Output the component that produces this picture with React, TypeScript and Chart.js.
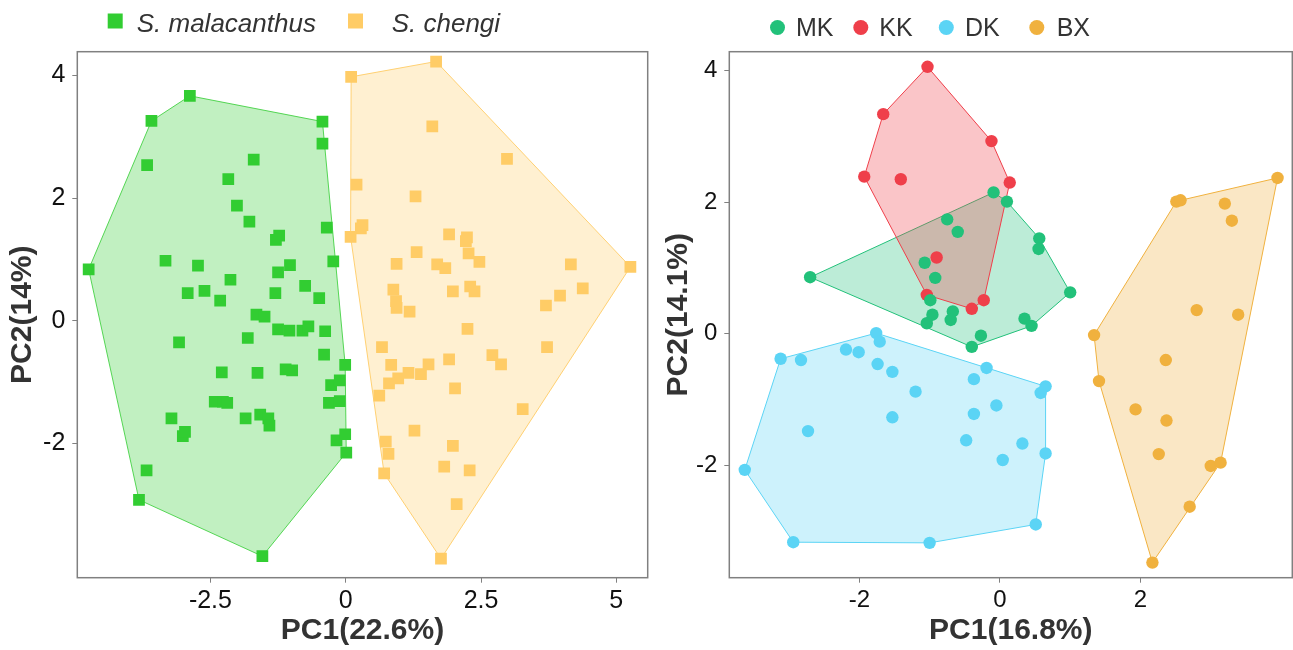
import React, { useEffect, useRef } from "react";
import { Chart, registerables } from "chart.js";

Chart.register(...registerables);

type Pt = [number, number];

// ---------- Left panel: species ----------
const malacanthus: Pt[] = [
  [-4.75, 0.84], [-3.59, 3.26], [-2.88, 3.67], [-0.43, 3.25], [-0.43, 2.89],
  [-3.67, 2.54], [-1.70, 2.63], [-2.17, 2.31], [-2.01, 1.88], [-1.78, 1.62],
  [-1.23, 1.39], [-1.29, 1.32], [-0.35, 1.52], [-0.23, 0.97], [-3.33, 0.98],
  [-2.73, 0.90], [-1.03, 0.91], [-1.25, 0.79], [-2.13, 0.67], [-0.75, 0.57],
  [-2.92, 0.45], [-2.61, 0.49], [-1.30, 0.45], [-0.49, 0.37], [-2.32, 0.33],
  [-1.65, 0.10], [-1.50, 0.07], [-1.25, -0.14], [-1.04, -0.16], [-0.80, -0.16],
  [-0.69, -0.09], [-0.38, -0.17], [-3.08, -0.35], [-1.81, -0.28], [-0.40, -0.55],
  [-0.01, -0.72], [-2.29, -0.84], [-1.63, -0.85], [-1.11, -0.79], [-0.99, -0.81],
  [-0.27, -1.05], [-0.11, -0.97], [-2.42, -1.32], [-2.27, -1.32], [-2.19, -1.34],
  [-0.31, -1.34], [-0.11, -1.31], [-3.22, -1.59], [-1.85, -1.59], [-1.58, -1.53],
  [-1.43, -1.59], [-1.41, -1.71], [-3.01, -1.88], [-2.97, -1.81], [-0.17, -1.95],
  [-0.01, -1.85], [0.01, -2.15], [-3.68, -2.44], [-3.82, -2.92], [-1.54, -3.84],
];

const chengi: Pt[] = [
  [0.10, 3.98], [1.67, 4.23], [1.60, 3.17], [2.98, 2.64], [0.20, 2.22],
  [1.29, 2.03], [0.31, 1.56], [0.28, 1.51], [0.09, 1.37], [1.91, 1.41],
  [2.24, 1.36], [2.22, 1.30], [2.27, 1.10], [1.31, 1.12], [0.94, 0.93],
  [1.69, 0.92], [1.84, 0.86], [2.47, 0.96], [4.16, 0.92], [5.26, 0.88],
  [0.88, 0.51], [0.93, 0.32], [0.94, 0.21], [1.18, 0.15], [1.98, 0.48],
  [2.30, 0.56], [2.38, 0.48], [3.96, 0.41], [4.38, 0.53], [3.70, 0.25],
  [2.25, -0.13], [0.67, -0.43], [3.72, -0.43], [0.84, -0.72], [1.91, -0.63],
  [2.71, -0.56], [2.87, -0.71], [1.53, -0.71], [1.39, -0.87], [1.16, -0.85],
  [0.97, -0.94], [0.80, -1.02], [0.62, -1.22], [2.02, -1.10], [3.27, -1.44],
  [1.27, -1.79], [0.74, -1.97], [1.98, -2.04], [0.79, -2.17], [1.82, -2.38],
  [2.29, -2.44], [0.71, -2.49], [2.05, -2.99], [1.76, -3.88],
];

const leftLabels = ["S. malacanthus", "S. chengi"];
const leftXTicks = [-2.5, 0, 2.5, 5];
const leftYTicks = [-2, 0, 2, 4];
const leftXTitle = "PC1(22.6%)";
const leftYTitle = "PC2(14%)";

// ---------- Right panel: populations ----------
const mk: Pt[] = [
  [-2.70, 0.86], [-0.75, 1.74], [-0.60, 1.55], [-1.07, 1.08], [-0.92, 0.85],
  [-0.99, 0.51], [-0.96, 0.29], [-1.04, 0.16], [-0.67, 0.34], [-0.70, 0.21],
  [-0.27, -0.03], [-0.40, -0.20], [-0.09, 2.15], [0.10, 2.01], [0.56, 1.45],
  [0.55, 1.29], [1.00, 0.63], [0.35, 0.23], [0.45, 0.12],
];
const kk: Pt[] = [
  [-1.03, 4.06], [-1.66, 3.34], [-1.93, 2.39], [-1.41, 2.35], [-0.90, 1.16],
  [-1.04, 0.59], [-0.40, 0.38], [-0.23, 0.51], [-0.12, 2.93], [0.14, 2.30],
];
const dk: Pt[] = [
  [-1.76, 0.01], [-1.71, -0.12], [-2.19, -0.24], [-2.01, -0.28], [-3.12, -0.38],
  [-2.83, -0.40], [-1.74, -0.46], [-1.53, -0.58], [-1.20, -0.88], [-0.37, -0.69],
  [-0.19, -0.52], [-1.53, -1.27], [-0.37, -1.22], [-2.73, -1.48], [-0.48, -1.62],
  [-3.63, -2.07], [-2.94, -3.17], [-1.00, -3.18], [-0.05, -1.09], [0.65, -0.80],
  [0.58, -0.90], [0.32, -1.67], [0.04, -1.92], [0.65, -1.82], [0.51, -2.90],
];
const bx: Pt[] = [
  [3.95, 2.37], [2.51, 2.01], [2.57, 2.03], [3.20, 1.98], [3.30, 1.72],
  [2.80, 0.36], [3.39, 0.29], [1.34, -0.02], [2.36, -0.40], [1.41, -0.72],
  [1.93, -1.15], [2.37, -1.32], [2.26, -1.83], [3.00, -2.01], [3.14, -1.96],
  [2.70, -2.63], [2.17, -3.48],
];

const rightLabels = ["MK", "KK", "DK", "BX"];
const rightXTicks = [-2, 0, 2];
const rightYTicks = [-2, 0, 2, 4];
const rightXTitle = "PC1(16.8%)";
const rightYTitle = "PC2(14.1%)";

// ---------- helpers ----------
const FONT = "'Liberation Sans', Arial, Helvetica, sans-serif";

function convexHull(pts: Pt[]): Pt[] {
  const p = [...pts].sort((a, b) => a[0] - b[0] || a[1] - b[1]);
  const cross = (o: Pt, a: Pt, b: Pt) =>
    (a[0] - o[0]) * (b[1] - o[1]) - (a[1] - o[1]) * (b[0] - o[0]);
  const lower: Pt[] = [];
  for (const q of p) {
    while (lower.length >= 2 && cross(lower[lower.length - 2], lower[lower.length - 1], q) <= 0) lower.pop();
    lower.push(q);
  }
  const upper: Pt[] = [];
  for (let i = p.length - 1; i >= 0; i--) {
    const q = p[i];
    while (upper.length >= 2 && cross(upper[upper.length - 2], upper[upper.length - 1], q) <= 0) upper.pop();
    upper.push(q);
  }
  upper.pop();
  lower.pop();
  return lower.concat(upper);
}

const hullPlugin = {
  id: "hulls",
  beforeDatasetsDraw(chart: any, _args: any, opts: any) {
    const { ctx, scales } = chart;
    const xs = scales.x;
    const ys = scales.y;
    chart.data.datasets.forEach((ds: any, i: number) => {
      const pts = convexHull(ds.data.map((d: any) => [d.x, d.y] as Pt));
      ctx.save();
      ctx.beginPath();
      pts.forEach(([a, b], k) => {
        const px = xs.getPixelForValue(a);
        const py = ys.getPixelForValue(b);
        if (k === 0) ctx.moveTo(px, py);
        else ctx.lineTo(px, py);
      });
      ctx.closePath();
      ctx.fillStyle = opts.fills[i];
      ctx.fill();
      ctx.strokeStyle = opts.strokes[i];
      ctx.lineWidth = 1;
      ctx.stroke();
      ctx.restore();
    });
  },
};

const framePlugin = {
  id: "frame",
  afterDraw(chart: any, _args: any, opts: any) {
    const { ctx, chartArea: a } = chart;
    ctx.save();
    ctx.strokeStyle = opts.color;
    ctx.lineWidth = opts.width;
    ctx.strokeRect(a.left, a.top, a.right - a.left, a.bottom - a.top);
    ctx.restore();
  },
};

const legendPlugin = {
  id: "pcaLegend",
  afterDraw(chart: any, _args: any, opts: any) {
    const { ctx } = chart;
    ctx.save();
    chart.data.datasets.forEach((ds: any, i: number) => {
      const it = opts.items[i];
      ctx.fillStyle = ds.backgroundColor;
      if (opts.marker === "rect") {
        ctx.fillRect(it.cx - opts.size / 2, opts.cy - opts.size / 2, opts.size, opts.size);
      } else {
        ctx.beginPath();
        ctx.arc(it.cx, opts.cy, opts.size / 2, 0, Math.PI * 2);
        ctx.fill();
      }
      ctx.fillStyle = opts.textColor;
      ctx.font = opts.font;
      ctx.textAlign = "left";
      ctx.textBaseline = "alphabetic";
      ctx.fillText(ds.label, it.tx, opts.baseline);
    });
    ctx.restore();
  },
};

function zeroPadding(s: any) {
  s.paddingLeft = 0;
  s.paddingRight = 0;
  s.paddingTop = 0;
  s.paddingBottom = 0;
}

function makeScales(
  xr: [number, number], yr: [number, number], xt: number[], yt: number[],
  xTitle: string, yTitle: string, yWidth: number, tickSize: number, yTitlePad: number
) {
  const common = {
    type: "linear" as const,
    grid: { drawOnChartArea: false, drawTicks: true, tickLength: 5, color: "#808080", lineWidth: 1 },
    border: { display: false },
  };
  return {
    x: {
      ...common,
      position: "bottom",
      min: xr[0],
      max: xr[1],
      afterBuildTicks: (s: any) => { s.ticks = xt.map((v) => ({ value: v })); },
      afterFit: (s: any) => { s.height = 72.3; zeroPadding(s); },
      ticks: {
        autoSkip: false, maxRotation: 0, minRotation: 0, padding: 3,
        color: "#111", font: { family: FONT, size: tickSize },
        callback: (v: any) => String(v),
      },
      title: {
        display: true, text: xTitle, color: "#333",
        font: { family: FONT, size: 30, weight: "bold" }, padding: { top: 0, bottom: 1 },
      },
    },
    y: {
      ...common,
      position: "left",
      min: yr[0],
      max: yr[1],
      afterBuildTicks: (s: any) => { s.ticks = yt.map((v) => ({ value: v })); },
      afterFit: (s: any) => { s.width = yWidth; zeroPadding(s); },
      ticks: {
        autoSkip: false, padding: 7,
        color: "#111", font: { family: FONT, size: tickSize },
        callback: (v: any) => String(v),
      },
      title: {
        display: true, text: yTitle, color: "#333",
        font: { family: FONT, size: 30, weight: "bold" }, padding: { top: yTitlePad, bottom: 0 },
      },
    },
  };
}

const toXY = (arr: Pt[]) => arr.map(([x, y]) => ({ x, y }));

function leftConfig(): any {
  const colors = ["#32CD32", "#FFCC66"];
  return {
    type: "scatter",
    data: {
      datasets: [malacanthus, chengi].map((d, i) => ({
        label: leftLabels[i],
        data: toXY(d),
        pointStyle: "rect",
        pointRadius: 8.3,
        pointHoverRadius: 8.3,
        backgroundColor: colors[i],
        borderWidth: 0,
      })),
    },
    options: {
      responsive: false,
      animation: false,
      events: [],
      layout: { autoPadding: false, padding: { top: 51.7, right: 12.3, left: 0, bottom: 0 } },
      scales: makeScales([-4.96, 5.58], [-4.19, 4.39], leftXTicks, leftYTicks, leftXTitle, leftYTitle, 77.3, 25, 4.5),
      plugins: {
        legend: { display: false },
        tooltip: { enabled: false },
        hulls: {
          fills: ["rgba(50,205,50,0.3)", "rgba(255,204,102,0.3)"],
          strokes: ["rgba(50,205,50,0.8)", "rgba(255,204,102,0.9)"],
        },
        frame: { color: "#808080", width: 1.5 },
        pcaLegend: {
          marker: "rect", size: 15, cy: 21, baseline: 32, textColor: "#333",
          font: `italic 26px ${FONT}`,
          items: [{ cx: 115.2, tx: 136.7 }, { cx: 355.5, tx: 391.7 }],
        },
      },
    },
    plugins: [hullPlugin, framePlugin, legendPlugin],
  };
}

function rightConfig(): any {
  const colors = ["#22C17A", "#EF3F4A", "#5BD4F5", "#F0B13E"];
  const rgba = ["rgba(34,193,122,0.3)", "rgba(239,63,74,0.3)", "rgba(91,212,245,0.3)", "rgba(240,177,62,0.3)"];
  return {
    type: "scatter",
    data: {
      datasets: [mk, kk, dk, bx].map((d, i) => ({
        label: rightLabels[i],
        data: toXY(d),
        pointStyle: "circle",
        pointRadius: 6.2,
        pointHoverRadius: 6.2,
        backgroundColor: colors[i],
        borderWidth: 0,
      })),
    },
    options: {
      responsive: false,
      animation: false,
      events: [],
      layout: { autoPadding: false, padding: { top: 51.7, right: 0.7, left: 0, bottom: 0 } },
      scales: makeScales([-3.85, 4.16], [-3.71, 4.29], rightXTicks, rightYTicks, rightXTitle, rightYTitle, 69.3, 24, 1),
      plugins: {
        legend: { display: false },
        tooltip: { enabled: false },
        hulls: { fills: rgba, strokes: colors },
        frame: { color: "#808080", width: 1.5 },
        pcaLegend: {
          marker: "circle", size: 15, cy: 27.5, baseline: 36, textColor: "#333",
          font: `25px ${FONT}`,
          items: [
            { cx: 117.5, tx: 136 },
            { cx: 200.8, tx: 219.3 },
            { cx: 286.3, tx: 305 },
            { cx: 376.8, tx: 396.7 },
          ],
        },
      },
    },
    plugins: [hullPlugin, framePlugin, legendPlugin],
  };
}

function PcaCanvas({ make, left, width }: { make: () => any; left: number; width: number }) {
  const ref = useRef<HTMLCanvasElement>(null);
  useEffect(() => {
    const chart = new Chart(ref.current as HTMLCanvasElement, make());
    return () => chart.destroy();
  }, [make]);
  return (
    <canvas
      ref={ref}
      width={width}
      height={650}
      style={{ position: "absolute", left, top: 0, width, height: 650 }}
    />
  );
}

export default function App() {
  return (
    <div style={{ position: "absolute", left: 0, top: 0, width: 1293, height: 650, background: "#fff", overflow: "hidden" }}>
      <PcaCanvas make={leftConfig} left={0} width={660} />
      <PcaCanvas make={rightConfig} left={660} width={633} />
    </div>
  );
}
